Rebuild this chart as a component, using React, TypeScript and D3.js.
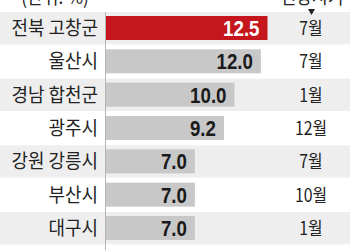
import React from "react";
import * as d3 from "d3";

const regions = ["전북 고창군", "울산시", "경남 합천군", "광주시", "강원 강릉시", "부산시", "대구시"];
const values = [12.5, 12.0, 10.0, 9.2, 7.0, 7.0, 7.0];
const months = ["7월", "7월", "1월", "12월", "7월", "10월", "1월"];
const unitLabel = "(단위: %)";
const monthHeader = "인상시기";

const W = 350;
const H = 250;
const KR = "'Noto Sans CJK KR', 'Noto Sans', sans-serif";
const NUM = "'Liberation Sans Narrow', 'Liberation Sans', Arial, sans-serif";

export default function App() {
  const idx = regions.map((_, i) => i);
  const y = d3.scaleBand<number>().domain(idx).range([12, 12 + 7 * 33.33]).padding(0);
  const x = d3.scaleLinear().domain([0, 12.5]).range([102.5, 267.5]);
  const barStart = 106;
  const bw = y.bandwidth();

  return (
    <svg width={W} height={H} style={{ position: "absolute", left: 0, top: 0, background: "#fff" }}>
      {idx.map((i) => {
        const y0 = y(i)!;
        const cy = y0 + 16;
        const isTop = i === 0;
        return (
          <g key={i}>
            {i % 2 === 0 && <rect x={0} y={y0} width={W} height={bw - 1} fill="#eeeeee" />}
            <rect x={barStart} y={y0 + 4} width={x(values[i]) - barStart} height={24} fill={isTop ? "#c5161d" : "#c8c8c8"} />
            <text
              transform={`translate(98,${cy + 7}) scale(0.92,1)`}
              textAnchor="end"
              fontFamily={KR}
              fontSize={19.5}
              fill="#222"
            >
              {regions[i]}
            </text>
            <text
              transform={`translate(${x(values[i]) - 8},${cy + 8}) scale(0.85,1)`}
              textAnchor="end"
              fontFamily={NUM}
              fontWeight="bold"
              fontSize={22}
              fill={isTop ? "#fff" : "#1a1a1a"}
            >
              {values[i].toFixed(1)}
            </text>
            <text
              transform={`translate(311,${cy + 7}) scale(0.88,1)`}
              textAnchor="middle"
              fontFamily={KR}
              fontSize={18}
              fill="#222"
            >
              {months[i]}
            </text>
          </g>
        );
      })}
      <line x1={105.5} x2={105.5} y1={12} y2={H} stroke="#b5b5b5" strokeWidth={1} />
      <text transform="translate(55,4) scale(0.9,1)" textAnchor="middle" fontFamily={KR} fontSize={19} fill="#222">
        {unitLabel}
      </text>
      <text transform="translate(312,4) scale(0.9,1)" textAnchor="middle" fontFamily={KR} fontSize={19} fill="#222">
        {monthHeader}
      </text>
      <path d="M308,9 L315,9 L311.5,15 Z" fill="#222" />
    </svg>
  );
}
